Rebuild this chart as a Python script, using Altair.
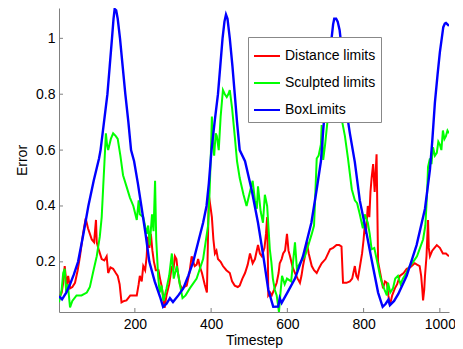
import altair as alt
import pandas as pd

# ---- data ----
red_x = [1, 8, 12, 16, 21, 25, 30, 36, 43, 50, 56, 64, 71, 77, 82, 87, 93, 98, 100, 106,
         113, 120, 126, 130, 136, 143, 150, 155, 160, 165, 172, 178, 188, 195, 205, 210, 213,
         218, 222, 227, 231, 234, 238, 242, 246, 250, 255, 262, 266, 270, 274, 278, 283, 290,
         297, 301, 305, 309, 313, 318, 323, 336, 343, 349, 353, 357, 362, 366, 371, 376, 383,
         389, 392, 394, 398, 402, 406, 410, 414, 418, 425, 431, 440, 449, 455, 462, 470, 475,
         482, 489, 496, 502, 509, 515, 523, 528, 533, 540, 544, 547, 549, 550, 555, 559, 565,
         572, 577, 580, 585, 589, 594, 599, 603, 607, 614, 620, 627, 633, 637, 641, 646, 651,
         656, 664, 670, 677, 684, 690, 700, 712, 720, 729, 736, 742, 746, 755, 764, 770, 777,
         781, 785, 790, 796, 800, 803, 806, 811, 815, 818, 821, 825, 829, 834, 838, 845, 851,
         856, 861, 865, 869, 875, 882, 888, 895, 905, 913, 922, 934, 940, 947, 951, 954, 956,
         959, 961, 965, 969, 971, 974, 980, 986, 992, 1000, 1008, 1016, 1024]
red_y = [0.07, 0.09, 0.125, 0.185, 0.115, 0.15, 0.105, 0.11, 0.125, 0.17, 0.22, 0.30, 0.355,
         0.32, 0.30, 0.28, 0.27, 0.35, 0.27, 0.24, 0.21, 0.205, 0.22, 0.16, 0.18, 0.175, 0.16,
         0.15, 0.12, 0.055, 0.06, 0.062, 0.08, 0.08, 0.08, 0.12, 0.15, 0.13, 0.185, 0.17, 0.22,
         0.29, 0.25, 0.30, 0.24, 0.20, 0.17, 0.17, 0.14, 0.115, 0.08, 0.035, 0.08, 0.12, 0.185,
         0.17, 0.22, 0.21, 0.16, 0.12, 0.105, 0.115, 0.16, 0.22, 0.20, 0.185, 0.19, 0.21, 0.18,
         0.16, 0.12, 0.09, 0.30, 0.44, 0.40, 0.36, 0.28, 0.23, 0.24, 0.21, 0.20, 0.185, 0.17,
         0.16, 0.13, 0.115, 0.11, 0.115, 0.14, 0.16, 0.19, 0.23, 0.195, 0.21, 0.26, 0.23, 0.22,
         0.25, 0.30, 0.36, 0.20, 0.08, 0.09, 0.08, 0.10, 0.125, 0.16, 0.195, 0.21, 0.23, 0.24,
         0.30, 0.24, 0.22, 0.18, 0.16, 0.14, 0.125, 0.15, 0.185, 0.22, 0.27, 0.23, 0.185, 0.17,
         0.16, 0.18, 0.195, 0.21, 0.245, 0.25, 0.26, 0.26, 0.255, 0.125, 0.125, 0.13, 0.14,
         0.185, 0.15, 0.14, 0.18, 0.23, 0.28, 0.33, 0.30, 0.40, 0.36, 0.45, 0.50, 0.55, 0.45,
         0.585, 0.20, 0.15, 0.105, 0.13, 0.125, 0.08, 0.045, 0.08, 0.105, 0.12, 0.15, 0.16,
         0.175, 0.18, 0.195, 0.19, 0.185, 0.15, 0.10, 0.062, 0.10, 0.15, 0.22, 0.35, 0.25, 0.22,
         0.24, 0.25, 0.26, 0.25, 0.23, 0.23, 0.22]

green_x = [1, 8, 12, 16, 20, 24, 30, 36, 47, 60, 74, 82, 90, 100, 108, 113, 117, 120, 124,
           127, 130, 137, 143, 150, 155, 162, 169, 178, 187, 196, 205, 210, 213, 222, 231, 235,
           239, 245, 249, 253, 256, 261, 265, 270, 275, 283, 290, 297, 302, 310, 318, 325, 333,
           344, 362, 379, 392, 396, 399, 402, 405, 408, 412, 415, 420, 425, 431, 436, 441, 445,
           449, 455, 462, 468, 475, 485, 493, 500, 509, 515, 520, 523, 530, 536, 541, 547, 554,
           558, 562, 567, 572, 578, 582, 586, 593, 599, 610, 620, 625, 635, 646, 655, 664, 670,
           673, 677, 682, 688, 690, 694, 699, 705, 712, 716, 722, 729, 737, 744, 751, 759, 769,
           777, 783, 790, 798, 803, 811, 816, 821, 828, 838, 843, 848, 855, 861, 864, 870, 877,
           883, 890, 897, 903, 912, 921, 930, 940, 948, 956, 962, 967, 969, 974, 978, 982, 987,
           992, 996, 1000, 1004, 1008, 1012, 1016, 1020, 1024]
green_y = [0.055, 0.10, 0.16, 0.175, 0.09, 0.12, 0.037, 0.06, 0.08, 0.08, 0.09, 0.11, 0.16,
           0.22, 0.29, 0.36, 0.47, 0.55, 0.66, 0.62, 0.60, 0.64, 0.66, 0.65, 0.64, 0.58, 0.51,
           0.47, 0.43, 0.40, 0.35, 0.42, 0.37, 0.36, 0.30, 0.33, 0.26, 0.37, 0.31, 0.49, 0.28,
           0.15, 0.09, 0.115, 0.06, 0.105, 0.15, 0.23, 0.14, 0.185, 0.12, 0.07, 0.08, 0.105,
           0.14, 0.21, 0.33, 0.45, 0.57, 0.72, 0.62, 0.58, 0.66, 0.65, 0.60, 0.72, 0.815, 0.80,
           0.79, 0.80, 0.815, 0.75, 0.65, 0.56, 0.50, 0.44, 0.40, 0.44, 0.49, 0.42, 0.39, 0.47,
           0.38, 0.34, 0.44, 0.40, 0.245, 0.20, 0.14, 0.10, 0.08, 0.02, 0.09, 0.15, 0.12, 0.14,
           0.13, 0.27, 0.175, 0.20, 0.22, 0.26, 0.30, 0.33, 0.43, 0.57, 0.58, 0.62, 0.69, 0.565,
           0.62, 0.70, 0.74, 0.77, 0.78, 0.76, 0.73, 0.70, 0.65, 0.57, 0.46, 0.42, 0.41, 0.37,
           0.32, 0.37, 0.34, 0.30, 0.245, 0.25, 0.185, 0.15, 0.125, 0.10, 0.08, 0.125, 0.09,
           0.105, 0.14, 0.15, 0.12, 0.14, 0.16, 0.185, 0.20, 0.22, 0.25, 0.28, 0.33, 0.46, 0.54,
           0.57, 0.55, 0.61, 0.58, 0.59, 0.63, 0.62, 0.60, 0.67, 0.64, 0.65, 0.67, 0.66]

blue_x = [1, 9, 20, 30, 40, 51, 65, 78, 92, 106, 110, 119, 128, 134, 140, 144, 147, 151, 155,
          161, 168, 175, 183, 190, 198, 208, 217, 228, 238, 252, 266, 274, 283, 292, 300, 314,
          327, 340, 353, 366, 379, 388, 394, 401, 410, 418, 424, 430, 435, 439, 443, 449, 456,
          462, 468, 475, 489, 506, 523, 537, 550, 563, 576, 580, 585, 600, 620, 641, 663, 677,
          688, 694, 700, 707, 712, 716, 720, 723, 728, 732, 737, 742, 746, 755, 764, 777, 790,
          808, 825, 838, 850, 858, 865, 869, 880, 891, 913, 939, 961, 974, 980, 987, 994, 1000,
          1005, 1009, 1013, 1016, 1020, 1024]
blue_y = [0.077, 0.066, 0.09, 0.12, 0.155, 0.2, 0.30, 0.4, 0.49, 0.57, 0.6, 0.70, 0.8, 0.9,
          1.0, 1.07, 1.105, 1.10, 1.07, 1.0, 0.9, 0.8, 0.7, 0.6, 0.56, 0.48, 0.4, 0.3, 0.2,
          0.13, 0.075, 0.039, 0.05, 0.07, 0.056, 0.08, 0.105, 0.15, 0.2, 0.27, 0.34, 0.4, 0.48,
          0.6, 0.71, 0.8, 0.9, 1.0, 1.06, 1.085, 1.07, 1.0, 0.9, 0.8, 0.7, 0.6, 0.56, 0.46, 0.34,
          0.22, 0.10, 0.039, 0.04, 0.07, 0.053, 0.09, 0.14, 0.22, 0.34, 0.46, 0.56, 0.67, 0.77,
          0.86, 0.93, 1.0, 1.05, 1.07, 1.07, 1.06, 1.03, 0.97, 0.92, 0.74, 0.66, 0.557, 0.42,
          0.30, 0.18, 0.09, 0.039, 0.05, 0.065, 0.045, 0.06, 0.085, 0.15, 0.26, 0.39, 0.53, 0.63,
          0.77, 0.87, 0.95, 1.0, 1.04, 1.053, 1.055, 1.05, 1.045]

series_names = ["Distance limits", "Sculpted limits", "BoxLimits"]
series_colors = ["#ff0000", "#00ff00", "#0000ff"]
x_ticks = [200, 400, 600, 800, 1000]
y_ticks = [0.2, 0.4, 0.6, 0.8, 1.0]
x_domain = [1, 1024]
y_domain = [0.0205, 1.1086]

frames = []
for name, xs_, ys_ in zip(series_names, [red_x, green_x, blue_x], [red_y, green_y, blue_y]):
    frames.append(pd.DataFrame({"t": xs_, "err": ys_, "series": name, "order": range(len(xs_))}))
df = pd.concat(frames, ignore_index=True)

FONT = "Liberation Sans"
W, H = 390, 304

xs = alt.Scale(domain=x_domain, nice=False, zero=False)
ys = alt.Scale(domain=y_domain, nice=False, zero=False)
cs = alt.Scale(domain=series_names, range=series_colors)

x_axis = alt.Axis(values=x_ticks, ticks=False, grid=False, domainColor="#808080", format="d",
                  labelFont=FONT, labelFontSize=14, labelColor="#000", labelPadding=5,
                  title="Timestep", titleFont=FONT, titleFontSize=14, titleFontWeight="normal",
                  titleColor="#000", titleX=W / 2, titleY=28, titleBaseline="middle",
                  titleAlign="center")
y_axis = alt.Axis(values=y_ticks, ticks=False, grid=False, domainColor="#808080", format="~g",
                  labelFont=FONT, labelFontSize=14, labelColor="#000", labelPadding=4,
                  title="Error", titleFont=FONT, titleFontSize=14, titleFontWeight="normal",
                  titleColor="#000", titleX=-37, titleY=H / 2, titleAngle=270,
                  titleBaseline="middle", titleAlign="center")

legend = alt.Legend(orient="none", legendX=189, legendY=29, title=None, symbolType="stroke",
                    symbolSize=676, symbolStrokeWidth=2, labelFont=FONT, labelFontSize=14,
                    labelColor="#000", labelOffset=4, padding=5, rowPadding=6,
                    strokeColor="#888888", fillColor="white", cornerRadius=0)

base = alt.Chart(df)

def line_layer(name, width):
    return base.transform_filter(alt.datum.series == name).mark_line(
        strokeWidth=width, clip=True
    ).encode(
        x=alt.X("t:Q", scale=xs, axis=x_axis, title="Timestep"),
        y=alt.Y("err:Q", scale=ys, axis=y_axis, title="Error"),
        color=alt.Color("series:N", scale=cs, legend=legend),
        order="order:Q",
    )

red_layer = line_layer("Distance limits", 2)
green_layer = line_layer("Sculpted limits", 2)
blue_layer = line_layer("BoxLimits", 2.4)

ytick_df = pd.DataFrame({"v": y_ticks})
xtick_df = pd.DataFrame({"v": x_ticks})
ytick_layer = alt.Chart(ytick_df).mark_rule(color="#808080", strokeWidth=1).encode(
    y=alt.Y("v:Q", scale=ys, axis=y_axis, title="Error"), x=alt.value(0), x2=alt.value(4))
xtick_layer = alt.Chart(xtick_df).mark_rule(color="#808080", strokeWidth=1).encode(
    x=alt.X("v:Q", scale=xs, axis=x_axis, title="Timestep"), y=alt.value(H), y2=alt.value(H - 4))

chart = alt.layer(red_layer, green_layer, blue_layer, ytick_layer, xtick_layer).properties(
    width=W, height=H,
    autosize=alt.AutoSizeParams(type="none"),
    padding={"left": 51, "top": 0, "right": 6, "bottom": 37},
    background="white",
).configure_view(stroke=None)

chart.save("out.html", embed_options={"renderer": "svg", "actions": False})
